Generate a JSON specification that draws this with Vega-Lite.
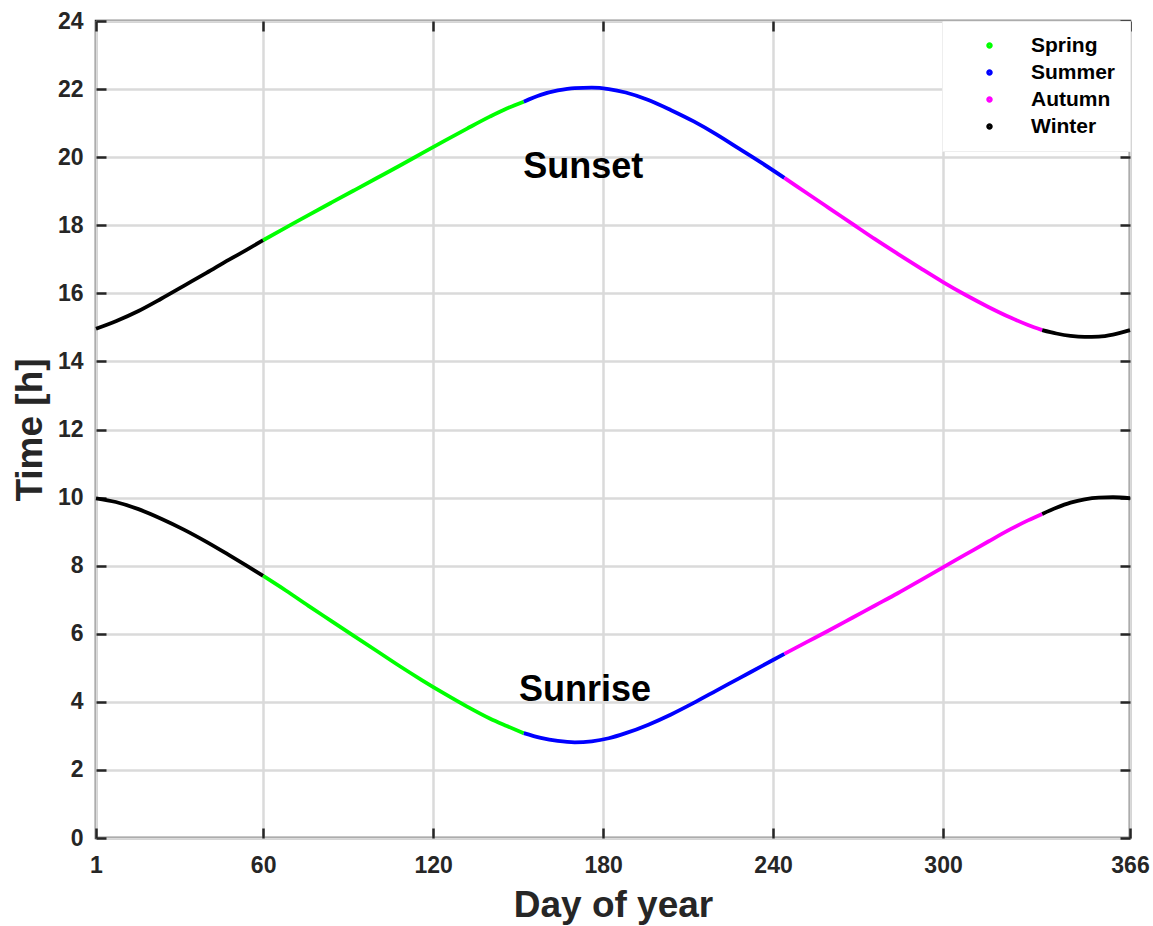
{
  "$schema": "https://vega.github.io/schema/vega-lite/v6.json",
  "width": 1034,
  "height": 817,
  "autosize": {"type": "none"},
  "padding": {"left": 96, "top": 21, "right": 23, "bottom": 88},
  "background": "white",
  "config": {
    "font": "Liberation Sans",
    "view": {"stroke": "#262626", "strokeWidth": 2.5},
    "axis": {
      "domain": false,
      "grid": true,
      "gridColor": "#dadada",
      "gridWidth": 2.5,
      "ticks": true,
      "tickSize": -10,
      "tickWidth": 2.5,
      "tickColor": "#262626",
      "labelFlush": false,
      "labelFont": "Liberation Sans",
      "labelFontSize": 23,
      "labelFontWeight": "bold",
      "labelColor": "#262626",
      "titleFont": "Liberation Sans",
      "titleFontSize": 37,
      "titleFontWeight": "bold",
      "titleColor": "#262626"
    }
  },
  "datasets": {
    "sun": [
      {"day": 1, "sunrise": 9.98, "sunset": 14.96, "season": "Winter", "part": "W1"},
      {"day": 8, "sunrise": 9.87, "sunset": 15.18, "season": "Winter", "part": "W1"},
      {"day": 16, "sunrise": 9.66, "sunset": 15.48, "season": "Winter", "part": "W1"},
      {"day": 24, "sunrise": 9.38, "sunset": 15.84, "season": "Winter", "part": "W1"},
      {"day": 32, "sunrise": 9.06, "sunset": 16.22, "season": "Winter", "part": "W1"},
      {"day": 40, "sunrise": 8.70, "sunset": 16.60, "season": "Winter", "part": "W1"},
      {"day": 48, "sunrise": 8.31, "sunset": 16.99, "season": "Winter", "part": "W1"},
      {"day": 54, "sunrise": 8.01, "sunset": 17.27, "season": "Winter", "part": "W1"},
      {"day": 60, "sunrise": 7.70, "sunset": 17.56, "season": "Winter", "part": "W1"},
      {"day": 60, "sunrise": 7.70, "sunset": 17.56, "season": "Spring", "part": "Sp"},
      {"day": 68, "sunrise": 7.27, "sunset": 17.93, "season": "Spring", "part": "Sp"},
      {"day": 76, "sunrise": 6.82, "sunset": 18.30, "season": "Spring", "part": "Sp"},
      {"day": 84, "sunrise": 6.38, "sunset": 18.66, "season": "Spring", "part": "Sp"},
      {"day": 92, "sunrise": 5.94, "sunset": 19.02, "season": "Spring", "part": "Sp"},
      {"day": 100, "sunrise": 5.50, "sunset": 19.38, "season": "Spring", "part": "Sp"},
      {"day": 108, "sunrise": 5.06, "sunset": 19.74, "season": "Spring", "part": "Sp"},
      {"day": 116, "sunrise": 4.64, "sunset": 20.11, "season": "Spring", "part": "Sp"},
      {"day": 124, "sunrise": 4.24, "sunset": 20.48, "season": "Spring", "part": "Sp"},
      {"day": 132, "sunrise": 3.86, "sunset": 20.84, "season": "Spring", "part": "Sp"},
      {"day": 140, "sunrise": 3.51, "sunset": 21.19, "season": "Spring", "part": "Sp"},
      {"day": 146, "sunrise": 3.29, "sunset": 21.43, "season": "Spring", "part": "Sp"},
      {"day": 152, "sunrise": 3.08, "sunset": 21.63, "season": "Spring", "part": "Sp"},
      {"day": 152, "sunrise": 3.08, "sunset": 21.63, "season": "Summer", "part": "Su"},
      {"day": 158, "sunrise": 2.94, "sunset": 21.83, "season": "Summer", "part": "Su"},
      {"day": 164, "sunrise": 2.85, "sunset": 21.96, "season": "Summer", "part": "Su"},
      {"day": 170, "sunrise": 2.81, "sunset": 22.03, "season": "Summer", "part": "Su"},
      {"day": 176, "sunrise": 2.84, "sunset": 22.04, "season": "Summer", "part": "Su"},
      {"day": 182, "sunrise": 2.93, "sunset": 22.00, "season": "Summer", "part": "Su"},
      {"day": 188, "sunrise": 3.08, "sunset": 21.90, "season": "Summer", "part": "Su"},
      {"day": 196, "sunrise": 3.33, "sunset": 21.68, "season": "Summer", "part": "Su"},
      {"day": 204, "sunrise": 3.63, "sunset": 21.38, "season": "Summer", "part": "Su"},
      {"day": 212, "sunrise": 3.97, "sunset": 21.05, "season": "Summer", "part": "Su"},
      {"day": 220, "sunrise": 4.33, "sunset": 20.67, "season": "Summer", "part": "Su"},
      {"day": 228, "sunrise": 4.69, "sunset": 20.25, "season": "Summer", "part": "Su"},
      {"day": 236, "sunrise": 5.05, "sunset": 19.83, "season": "Summer", "part": "Su"},
      {"day": 244, "sunrise": 5.41, "sunset": 19.39, "season": "Summer", "part": "Su"},
      {"day": 244, "sunrise": 5.41, "sunset": 19.39, "season": "Autumn", "part": "Au"},
      {"day": 252, "sunrise": 5.76, "sunset": 18.94, "season": "Autumn", "part": "Au"},
      {"day": 260, "sunrise": 6.11, "sunset": 18.49, "season": "Autumn", "part": "Au"},
      {"day": 268, "sunrise": 6.47, "sunset": 18.04, "season": "Autumn", "part": "Au"},
      {"day": 276, "sunrise": 6.83, "sunset": 17.59, "season": "Autumn", "part": "Au"},
      {"day": 284, "sunrise": 7.19, "sunset": 17.16, "season": "Autumn", "part": "Au"},
      {"day": 292, "sunrise": 7.57, "sunset": 16.74, "season": "Autumn", "part": "Au"},
      {"day": 300, "sunrise": 7.95, "sunset": 16.33, "season": "Autumn", "part": "Au"},
      {"day": 308, "sunrise": 8.33, "sunset": 15.95, "season": "Autumn", "part": "Au"},
      {"day": 316, "sunrise": 8.71, "sunset": 15.60, "season": "Autumn", "part": "Au"},
      {"day": 324, "sunrise": 9.08, "sunset": 15.28, "season": "Autumn", "part": "Au"},
      {"day": 330, "sunrise": 9.33, "sunset": 15.07, "season": "Autumn", "part": "Au"},
      {"day": 335, "sunrise": 9.52, "sunset": 14.92, "season": "Autumn", "part": "Au"},
      {"day": 335, "sunrise": 9.52, "sunset": 14.92, "season": "Winter", "part": "W2"},
      {"day": 340, "sunrise": 9.70, "sunset": 14.82, "season": "Winter", "part": "W2"},
      {"day": 345, "sunrise": 9.85, "sunset": 14.75, "season": "Winter", "part": "W2"},
      {"day": 350, "sunrise": 9.95, "sunset": 14.72, "season": "Winter", "part": "W2"},
      {"day": 355, "sunrise": 10.00, "sunset": 14.73, "season": "Winter", "part": "W2"},
      {"day": 360, "sunrise": 10.01, "sunset": 14.79, "season": "Winter", "part": "W2"},
      {"day": 366, "sunrise": 9.98, "sunset": 14.92, "season": "Winter", "part": "W2"}
    ],
    "notes": [
      {"day": 173, "time": 19.71, "text": "Sunset"},
      {"day": 173.6, "time": 4.35, "text": "Sunrise"}
    ]
  },
  "layer": [
    {
      "data": {"name": "sun"},
      "transform": [{"fold": ["sunrise", "sunset"], "as": ["curve", "time"]}],
      "mark": {"type": "line", "strokeWidth": 3.8, "interpolate": "monotone"},
      "encoding": {
        "x": {
          "field": "day",
          "type": "quantitative",
          "scale": {"domain": [1, 366], "nice": false, "zero": false},
          "axis": {
            "values": [1, 60, 120, 180, 240, 300, 366],
            "title": "Day of year",
            "labelPadding": 26,
            "titlePadding": 10
          }
        },
        "y": {
          "field": "time",
          "type": "quantitative",
          "scale": {"domain": [0, 24], "nice": false},
          "axis": {
            "values": [0, 2, 4, 6, 8, 10, 12, 14, 16, 18, 20, 22, 24],
            "title": "Time [h]",
            "labelPadding": 23,
            "titlePadding": 8
          }
        },
        "color": {
          "field": "season",
          "type": "nominal",
          "scale": {
            "domain": ["Spring", "Summer", "Autumn", "Winter"],
            "range": ["#00ff00", "#0000ff", "#ff00ff", "#000000"]
          },
          "legend": {
            "title": null,
            "orient": "none",
            "legendX": 846,
            "legendY": 0,
            "fillColor": "white",
            "strokeColor": "#eeeeee",
            "padding": 14,
            "symbolType": "circle",
            "symbolSize": 12,
            "symbolStrokeWidth": 3,
            "symbolOffset": 23,
            "labelOffset": 31,
            "labelFontSize": 21,
            "labelFont": "Liberation Sans",
            "labelFontWeight": "bold",
            "labelColor": "black",
            "rowPadding": 5
          }
        },
        "detail": [{"field": "curve"}, {"field": "part"}]
      }
    },
    {
      "data": {"name": "notes"},
      "mark": {"type": "text", "fontSize": 36, "fontWeight": "bold", "font": "Liberation Sans", "color": "black"},
      "encoding": {
        "x": {
          "field": "day",
          "type": "quantitative",
          "axis": {"orient": "top", "values": [1, 60, 120, 180, 240, 300, 366], "labels": false, "title": null, "grid": false}
        },
        "y": {
          "field": "time",
          "type": "quantitative",
          "axis": {"orient": "right", "values": [0, 2, 4, 6, 8, 10, 12, 14, 16, 18, 20, 22, 24], "labels": false, "title": null, "grid": false}
        },
        "text": {"field": "text"}
      }
    }
  ],
  "resolve": {"axis": {"x": "independent", "y": "independent"}}
}
